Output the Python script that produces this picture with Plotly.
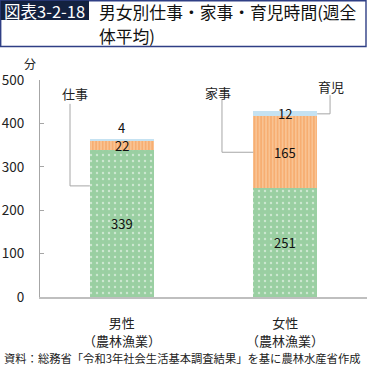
import plotly.graph_objects as go

categories = ["男性", "女性"]
sublabels = ["（農林漁業）", "（農林漁業）"]
work = [339, 251]
housework = [22, 165]
childcare = [4, 12]
yticks = [0, 100, 200, 300, 400, 500]

FONT = "Noto Sans CJK JP"
W, H = 367, 368
L, R, T, B = 40, 0, 80, 71
BARW = 0.39

fig = go.Figure()
fig.add_bar(x=categories, y=work, name="仕事", width=BARW,
            marker=dict(color="#9ACFA2", line=dict(width=0),
                        pattern=dict(shape=".", fgcolor="#FFFFFF", bgcolor="#9ACFA2",
                                     size=6, solidity=0.12)))
fig.add_bar(x=categories, y=housework, name="家事", width=BARW,
            marker=dict(color="#F9B47A", line=dict(width=0),
                        pattern=dict(shape="|", fgcolor="#FDE4C4", bgcolor="#F7AE72",
                                     size=3.3, solidity=0.4)))
fig.add_bar(x=categories, y=childcare, name="育児", width=BARW,
            marker=dict(color="#C5E2F2", line=dict(width=0)))

def px2x(px):
    return (px - L) / (W - L - R)

def py2y(py):
    return (H - B - py) / (H - T - B)

annotations = []
# value labels from data
for i, c in enumerate(categories):
    base = 0
    segs = [work[i], housework[i], childcare[i]]
    for j, v in enumerate(segs):
        if i == 0 and j == 2:
            annotations.append(dict(x=c, y=base + v, text=str(v), showarrow=False,
                                    yanchor="bottom", yshift=0,
                                    font=dict(size=13, color="#111111", family=FONT)))
        else:
            annotations.append(dict(x=c, y=base + v / 2, text=str(v), showarrow=False,
                                    yanchor="middle",
                                    font=dict(size=13, color="#111111", family=FONT)))
        base += v
    annotations.append(dict(x=c, y=py2y(340), xref="x", yref="paper", text=sublabels[i],
                            showarrow=False, xanchor="center", yanchor="middle",
                            font=dict(size=13, color="#222222", family=FONT)))

line_style = dict(color="#A6A6A6", width=1)
mid_hw = work[1] + housework[1] / 2
mid_cc = work[1] + housework[1] + childcare[1] / 2
shapes = [
    # leader lines (category units: 0 = male, 1 = female)
    dict(type="path", xref="x", yref="y",
         path="M -0.3165,445 L -0.3165,256 L %f,256" % (-BARW / 2), line=line_style),
    dict(type="path", xref="x", yref="y",
         path="M 0.613,456 L 0.613,%f L %f,%f" % (mid_hw, 1 - BARW / 2, mid_hw), line=line_style),
    dict(type="path", xref="x", yref="y",
         path="M 1.274,465 L 1.274,%f L %f,%f" % (mid_cc, 1 + BARW / 2, mid_cc), line=line_style),
    # title box
    dict(type="rect", xref="paper", yref="paper", x0=px2x(0.7), x1=px2x(366), y0=py2y(46.5), y1=py2y(0.7),
         line=dict(color="#2F3F85", width=1.4), fillcolor="rgba(0,0,0,0)", layer="below"),
    dict(type="rect", xref="paper", yref="paper", x0=px2x(0.7), x1=px2x(89), y0=py2y(20), y1=py2y(0.7),
         line=dict(width=0), fillcolor="#13213F", layer="below"),
]

def ann(px, py, text, size, color="#222222", xanchor="center"):
    return dict(x=px2x(px), y=py2y(py), text=text, showarrow=False, xref="paper", yref="paper",
                xanchor=xanchor, yanchor="middle", font=dict(size=size, color=color, family=FONT))

annotations += [
    dict(x=-0.286, y=470, text="仕事", showarrow=False, xref="x", yref="y", yanchor="middle",
         font=dict(size=13, color="#222222", family=FONT)),
    dict(x=0.59, y=472, text="家事", showarrow=False, xref="x", yref="y", yanchor="middle",
         font=dict(size=13, color="#222222", family=FONT)),
    dict(x=1.28, y=486, text="育児", showarrow=False, xref="x", yref="y", yanchor="middle",
         font=dict(size=13, color="#222222", family=FONT)),
    ann(30, 63, "分", 12),
    ann(2, 10.5, "図表3-2-18", 16.5, color="#FFFFFF", xanchor="left"),
    ann(97, 12, "男女別仕事・家事・育児時間(週全", 16.8, color="#111111", xanchor="left"),
    ann(97, 36, "体平均)", 16.8, color="#111111", xanchor="left"),
    ann(2, 358, "資料：総務省「令和3年社会生活基本調査結果」を基に農林水産省作成", 11.3, xanchor="left"),
]

fig.update_layout(
    width=W, height=H, barmode="stack", showlegend=False,
    margin=dict(l=L, r=R, t=T, b=B, pad=0, autoexpand=False),
    paper_bgcolor="#FFFFFF", plot_bgcolor="#FFFFFF",
    font=dict(family=FONT, size=13, color="#222222"),
    shapes=shapes, annotations=annotations,
    xaxis=dict(type="category", range=[-0.5, 1.5], showline=True, linecolor="#BFBFBF",
               linewidth=2, ticks="", showgrid=False, ticklabelstandoff=13, automargin=False,
               tickfont=dict(size=13, color="#222222", family=FONT)),
    yaxis=dict(range=[0, 500], tickvals=yticks, showline=True, linecolor="#A6A6A6",
               linewidth=1, ticks="inside", ticklen=4, tickcolor="#A6A6A6", automargin=False,
               showgrid=False, zeroline=False, ticklabelstandoff=12,
               tickfont=dict(size=13.5, color="#222222", family=FONT)),
)

fig.write_html("out.html", config={"displayModeBar": False},
               post_script="document.body.style.margin='0';document.body.style.overflow='hidden';")
